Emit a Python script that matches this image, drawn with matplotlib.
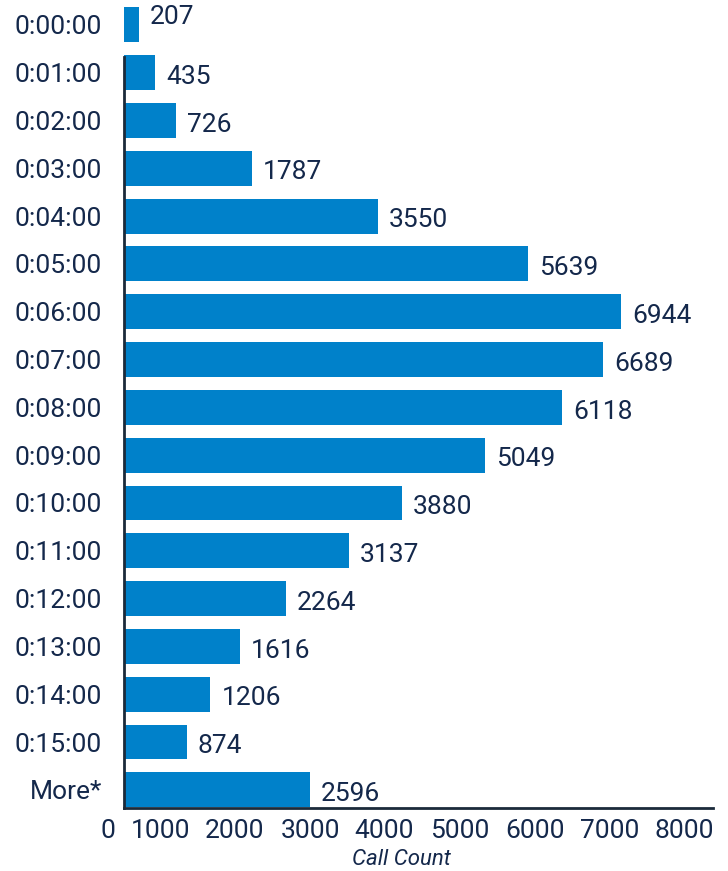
import numpy as np
import matplotlib.pyplot as plt

# data
categories = ["0:00:00", "0:01:00", "0:02:00", "0:03:00", "0:04:00", "0:05:00",
              "0:06:00", "0:07:00", "0:08:00", "0:09:00", "0:10:00", "0:11:00",
              "0:12:00", "0:13:00", "0:14:00", "0:15:00", "More*"]
counts = [207, 435, 726, 1787, 3550, 5639, 6944, 6689, 6118, 5049,
          3880, 3137, 2264, 1616, 1206, 874, 2596]
tick_labels = ["0", "1000", "2000", "3000", "4000", "5000", "6000", "7000", "8000"]
# where the tick labels sit along the axis (they are not evenly aligned to the bars)
tick_pos = [-224, 517, 1551, 2599, 3633, 4695, 5743, 6791, 7825]

bar_color = "#0081CA"
text_color = "#14284B"

plt.rcParams['font.family'] = ['Roboto', 'DejaVu Sans']

fig = plt.figure(figsize=(7.28, 8.71), dpi=100)
ax = fig.add_axes([90/728, 1 - 808/871, (713-90)/728, 808/871])

y = np.arange(len(categories))
ax.barh(y, counts, height=0.73, color=bar_color, zorder=2)

for yi, v in zip(y, counts):
    dy = -6 if yi == 0 else 3
    ax.annotate(str(v), (v, yi), xytext=(8, -dy), textcoords="offset points",
                ha="left", va="center", fontsize=19, color=text_color)

ax.set_xlim(-475, 8230)
ax.set_ylim(len(categories) - 1 + 0.38, -0.52)

ax.set_yticks(y)
ax.set_yticklabels(categories)
ax.set_xticks(tick_pos)
ax.set_xticklabels(tick_labels)
ax.tick_params(axis="both", length=0, labelsize=19, labelcolor=text_color)
ax.tick_params(axis="y", pad=16)
ax.tick_params(axis="x", pad=8)

for s in ["top", "right"]:
    ax.spines[s].set_visible(False)
ax.spines["left"].set_position(("data", 0))
ax.spines["left"].set_bounds(len(categories) - 1 + 0.38, 0.68)
ax.spines["bottom"].set_bounds(0, 8230)
for s in ["left", "bottom"]:
    ax.spines[s].set_color("#1B2A3A")
    ax.spines[s].set_linewidth(2)

ax.set_xlabel("Call Count", fontsize=16, style="italic", color=text_color, labelpad=4)

fig.savefig("out.png", dpi=100)
